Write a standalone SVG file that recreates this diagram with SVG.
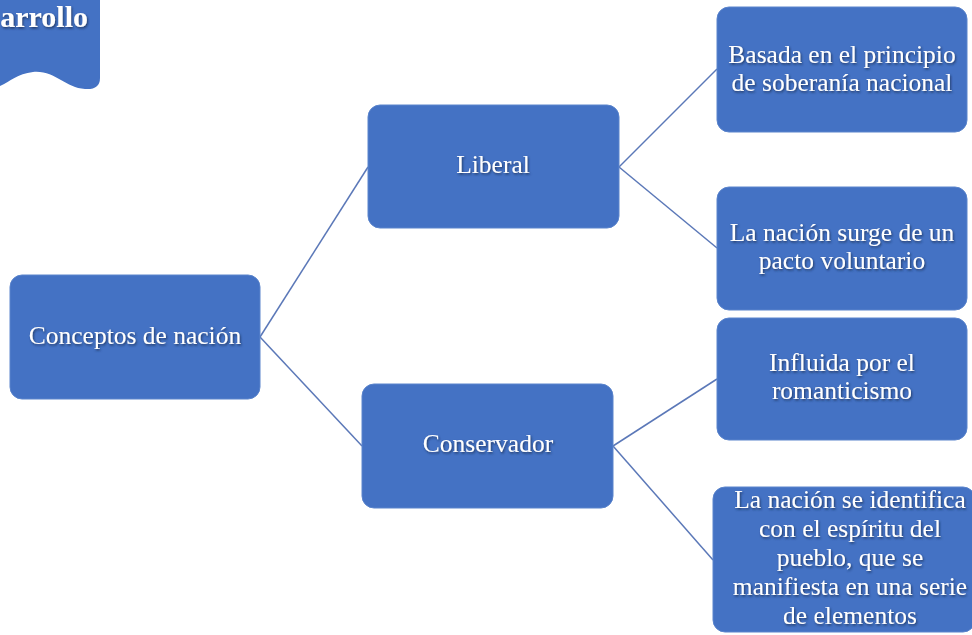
<svg xmlns="http://www.w3.org/2000/svg" width="972" height="635" viewBox="0 0 972 635">
<style>
.box{fill:#4472C4;stroke:#5a84cc;stroke-width:1}
.t{font-family:"Liberation Serif","Times New Roman",serif;font-size:25.5px;fill:#ffffff;text-anchor:middle;filter:url(#sh)}
.c{stroke:#5b78b8;stroke-width:1.5;fill:none}
</style>
<defs>
<filter id="sh" x="-10%" y="-30%" width="120%" height="160%">
<feDropShadow dx="1" dy="1.5" stdDeviation="0.8" flood-color="#1a2a50" flood-opacity="0.8"/>
</filter>
</defs>
<g id="banner">
<path d="M-5,0 H100 V78 Q100,90 85,89 C65,88 55,70 33,72 C15,74 8,84 -5,88 Z" fill="#4472C4"/>
<text x="88" y="27" style="font-family:'Liberation Serif',serif;font-size:30px;font-weight:bold;fill:#fff;text-anchor:end;filter:url(#sh)">arrollo</text>
</g>
<g id="connectors">
<line class="c" x1="260" y1="337" x2="368" y2="167"/>
<line class="c" x1="260" y1="337" x2="362" y2="446"/>
<line class="c" x1="619" y1="167" x2="717" y2="69"/>
<line class="c" x1="619" y1="167" x2="717" y2="248"/>
<line class="c" x1="613" y1="446" x2="717" y2="379"/>
<line class="c" x1="613" y1="446" x2="713" y2="560"/>
</g>
<g id="n-conceptos">
<rect class="box" x="10" y="275" width="250" height="124" rx="12"/>
<text class="t" x="135" y="344">Conceptos de nación</text>
</g>
<g id="n-liberal">
<rect class="box" x="368" y="105" width="251" height="123" rx="12"/>
<text class="t" x="493" y="173">Liberal</text>
</g>
<g id="n-conservador">
<rect class="box" x="362" y="384" width="251" height="124" rx="12"/>
<text class="t" x="488" y="452">Conservador</text>
</g>
<g id="n-basada">
<rect class="box" x="717" y="7" width="250" height="125" rx="12"/>
<text class="t" x="842" y="63">Basada en el principio</text>
<text class="t" x="842" y="91">de soberanía nacional</text>
</g>
<g id="n-pacto">
<rect class="box" x="717" y="187" width="250" height="123" rx="12"/>
<text class="t" x="842" y="241">La nación surge de un</text>
<text class="t" x="842" y="269">pacto voluntario</text>
</g>
<g id="n-influida">
<rect class="box" x="717" y="318" width="250" height="122" rx="12"/>
<text class="t" x="842" y="371">Influida por el</text>
<text class="t" x="842" y="399">romanticismo</text>
</g>
<g id="n-espiritu">
<rect class="box" x="713" y="487" width="262" height="145" rx="12"/>
<text class="t" x="850" y="508">La nación se identifica</text>
<text class="t" x="850" y="537">con el espíritu del</text>
<text class="t" x="850" y="566">pueblo, que se</text>
<text class="t" x="850" y="595">manifiesta en una serie</text>
<text class="t" x="850" y="624">de elementos</text>
</g>
</svg>
